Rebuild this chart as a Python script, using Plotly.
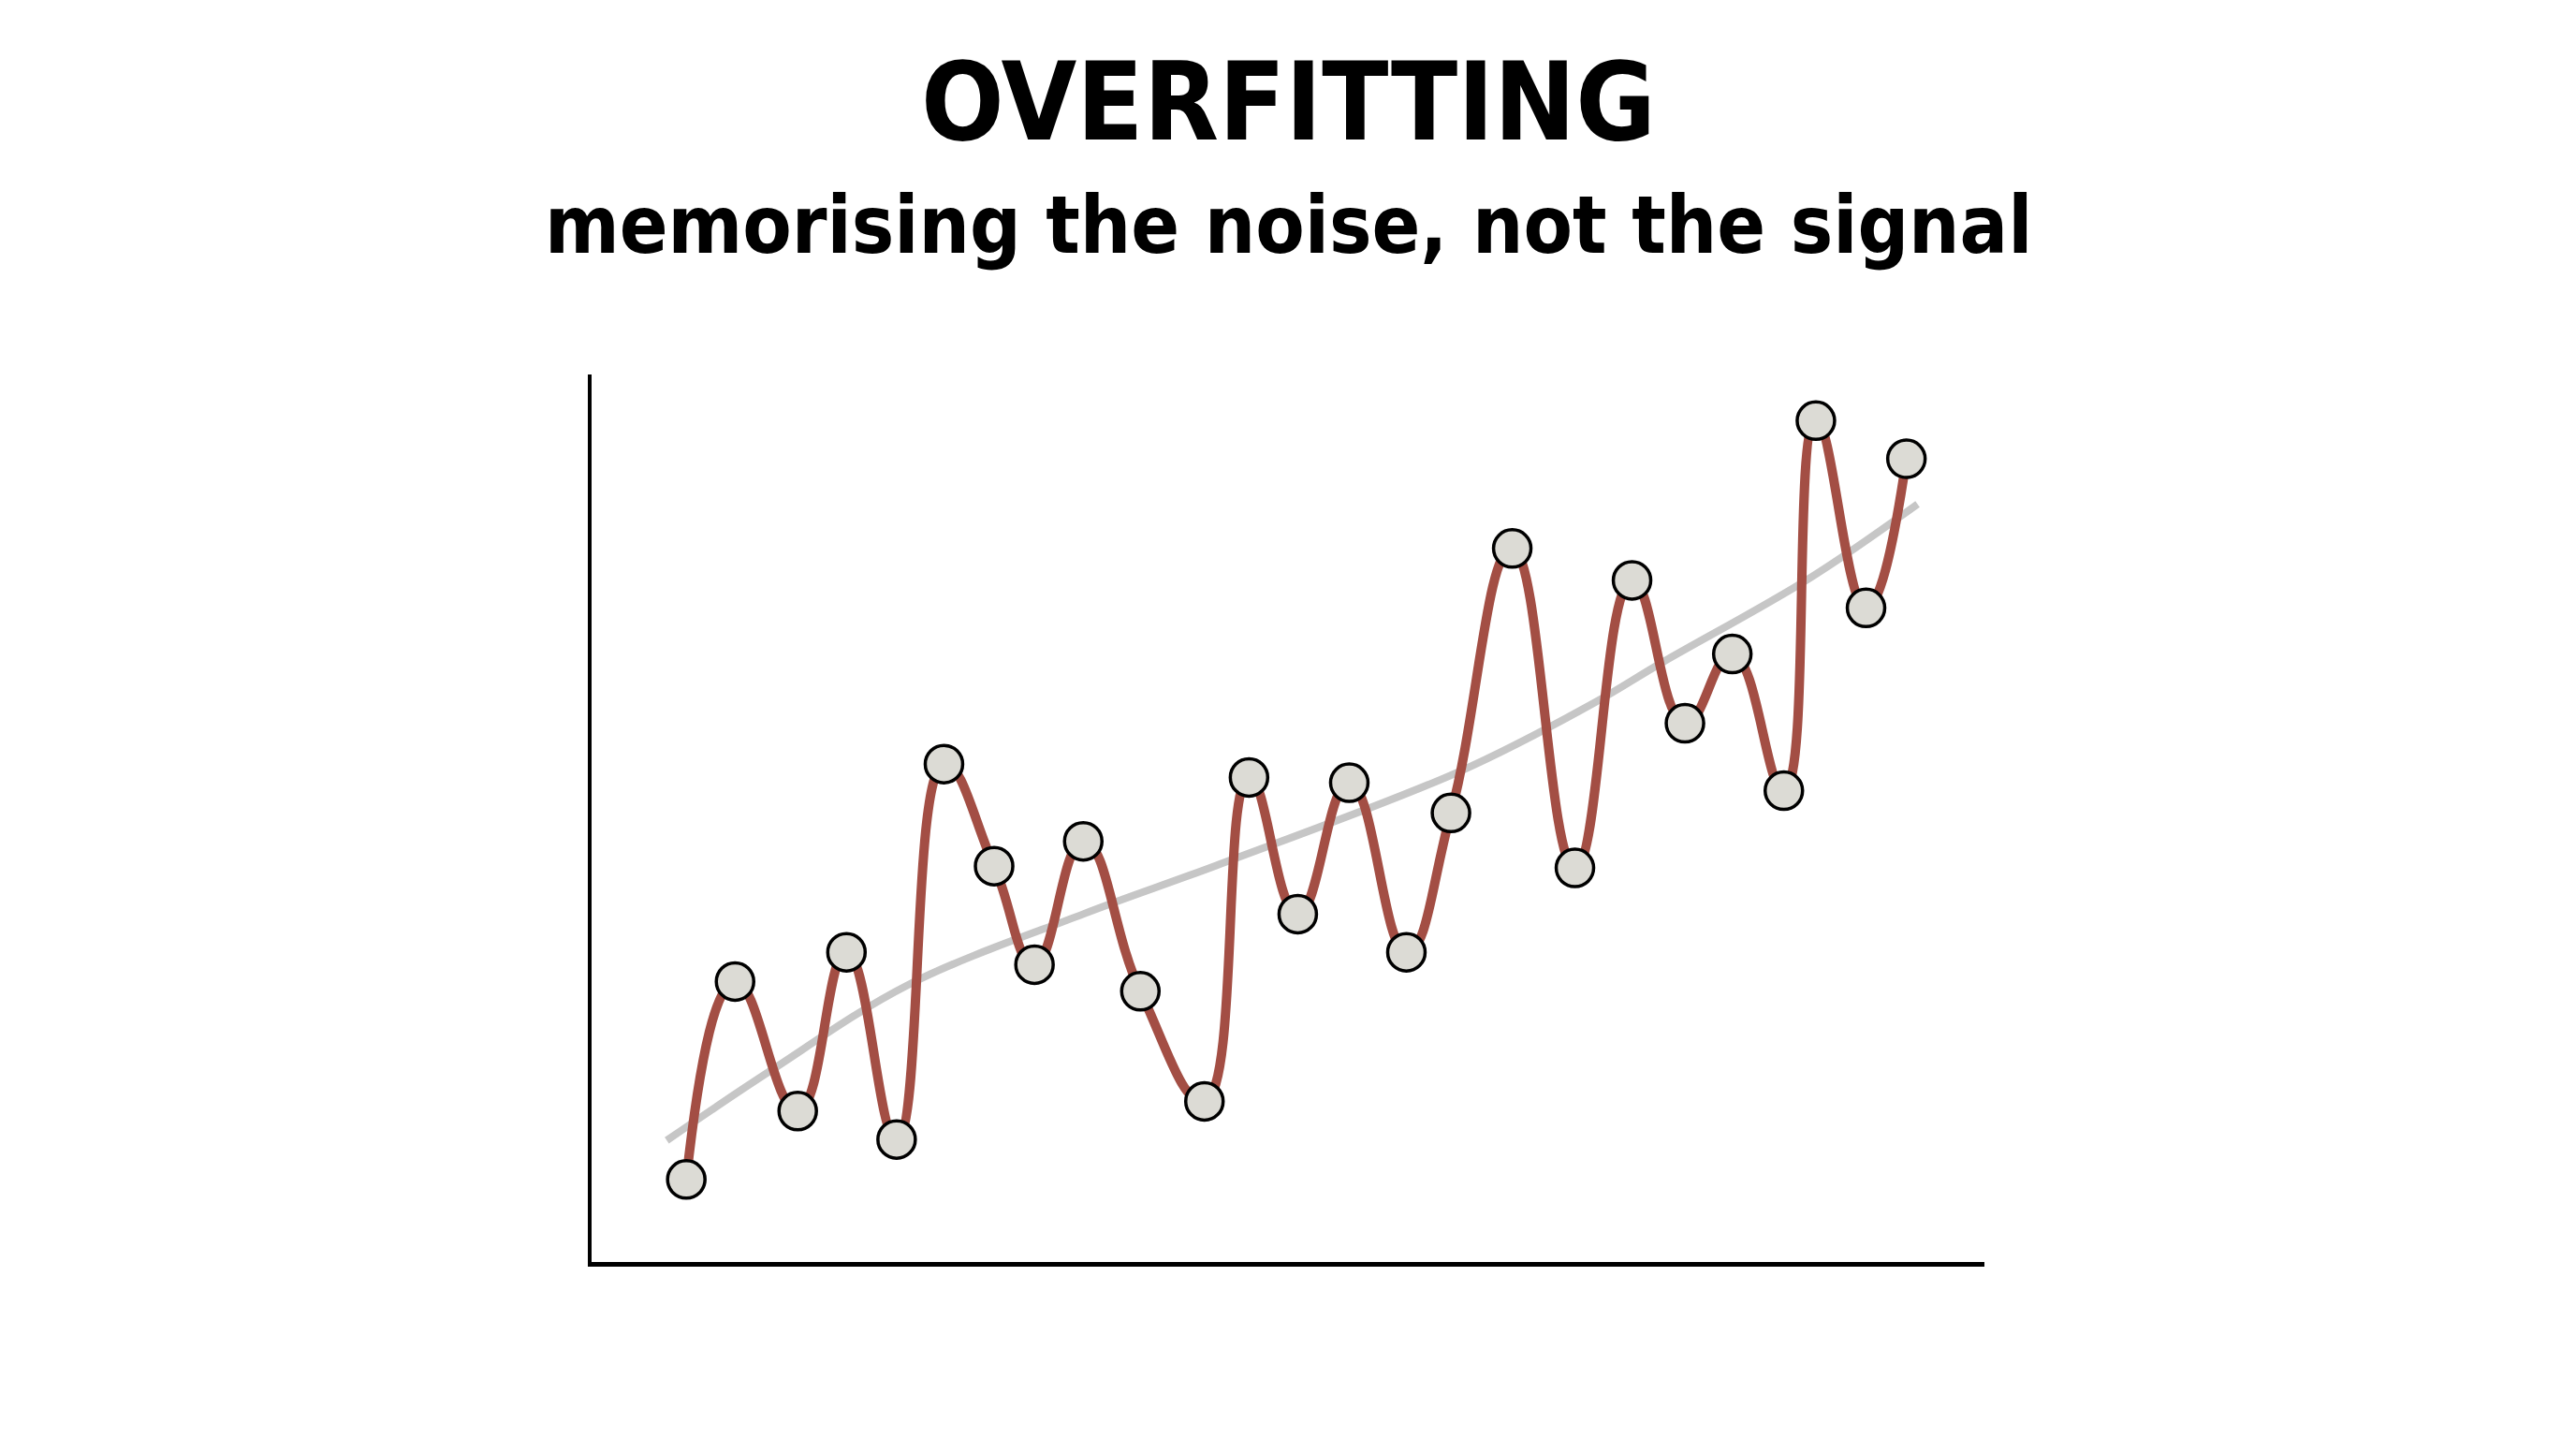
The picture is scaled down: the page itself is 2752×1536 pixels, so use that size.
import plotly.graph_objects as go

# Observed (noisy) data points
x_pts = [0.68, 1.03, 1.48, 1.83, 2.19, 2.53, 2.89, 3.18, 3.53, 3.94, 4.40, 4.72, 5.07,
         5.44, 5.85, 6.17, 6.61, 7.06, 7.47, 7.85, 8.19, 8.56, 8.79, 9.15, 9.44]
y_pts = [0.93, 3.16, 1.70, 3.49, 1.38, 5.61, 4.46, 3.35, 4.74, 3.05, 1.81, 5.46, 3.92,
         5.40, 3.49, 5.06, 8.04, 4.44, 7.68, 6.07, 6.85, 5.31, 9.48, 7.37, 9.05]

# Underlying signal (grey trend)
trend_x = [0.54, 1.28, 2.27, 3.53, 4.49, 6.25, 7.21, 7.67, 8.75, 9.52]
trend_y = [1.37, 2.15, 3.12, 3.92, 4.47, 5.54, 6.31, 6.74, 7.71, 8.54]

title_text = "OVERFITTING"
subtitle_text = "memorising the noise, not the signal"

FONT = "DejaVu Sans Condensed, DejaVu Sans, sans-serif"

fig = go.Figure()

fig.add_trace(go.Scatter(
    x=trend_x, y=trend_y, mode="lines",
    line=dict(color="#C6C6C6", width=8, shape="spline", smoothing=1.0),
    hoverinfo="skip", showlegend=False))

fig.add_trace(go.Scatter(
    x=x_pts, y=y_pts, mode="lines",
    line=dict(color="#A34E44", width=10, shape="spline", smoothing=1.3),
    hoverinfo="skip", showlegend=False))

fig.add_trace(go.Scatter(
    x=x_pts, y=y_pts, mode="markers",
    marker=dict(size=40, color="#DCDBD5", line=dict(color="#000000", width=3.5)),
    showlegend=False, cliponaxis=False))

fig.add_annotation(text="<b>" + title_text + "</b>", xref="paper", yref="paper",
                   x=0.5, y=1.307, xanchor="center", yanchor="middle", showarrow=False,
                   font=dict(family=FONT, size=116, color="#000000"))
fig.add_annotation(text="<b>" + subtitle_text + "</b>", xref="paper", yref="paper",
                   x=0.5, y=1.168, xanchor="center", yanchor="middle", showarrow=False,
                   font=dict(family=FONT, size=85, color="#000000"))

fig.update_layout(
    width=2752, height=1536,
    margin=dict(l=632, r=632, t=400, b=188),
    paper_bgcolor="#FFFFFF", plot_bgcolor="#FFFFFF",
    xaxis=dict(range=[0, 10], showgrid=False, zeroline=False, showticklabels=False,
               ticks="", showline=True, linecolor="#000000", linewidth=5),
    yaxis=dict(range=[0, 10], showgrid=False, zeroline=False, showticklabels=False,
               ticks="", showline=True, linecolor="#000000", linewidth=4),
)

fig.write_html("out.html")
